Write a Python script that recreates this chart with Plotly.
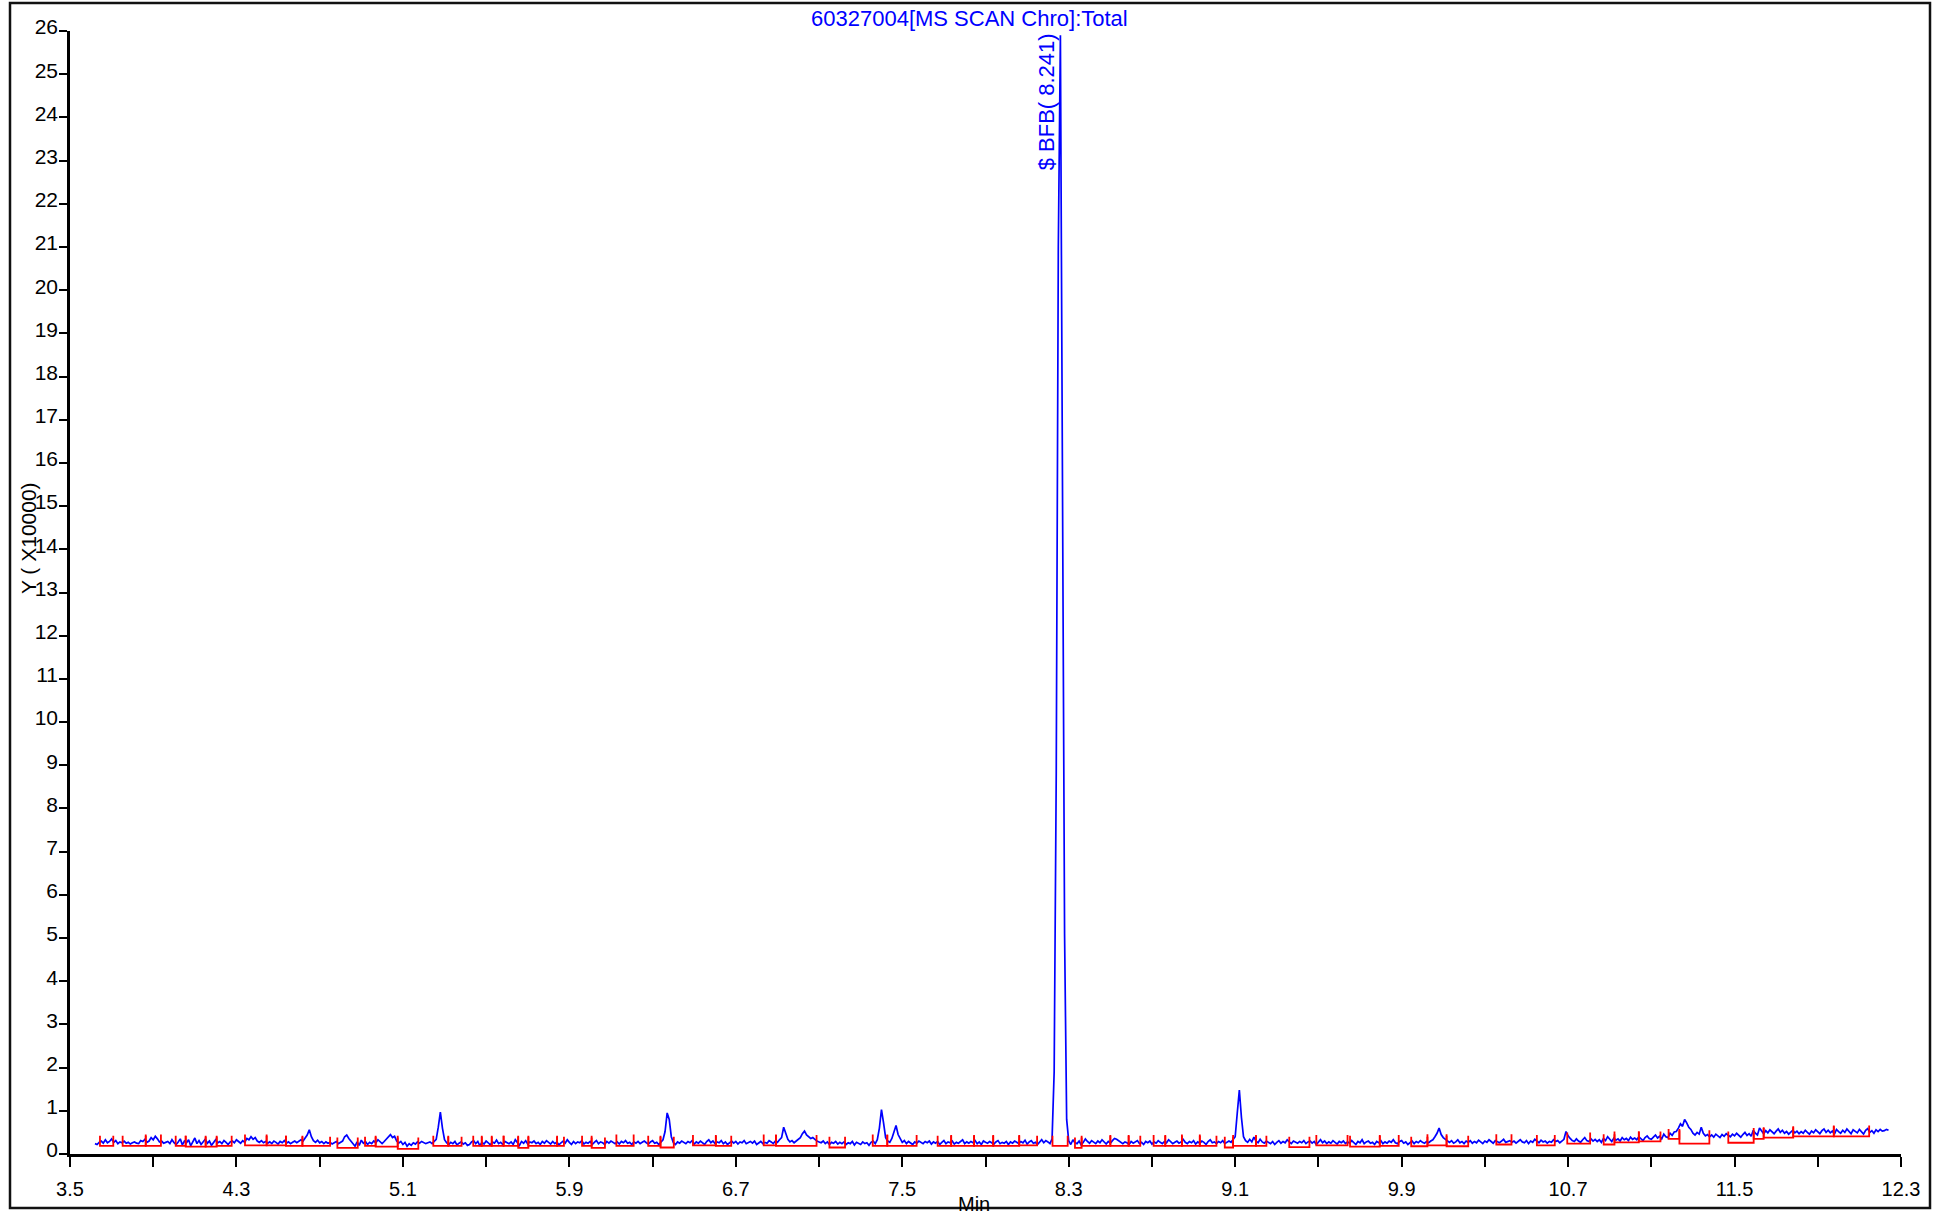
import numpy as np
import plotly.graph_objects as go

# ---------------- data ----------------
scan_start = 3.62   # min
scan_step = 0.01    # min per scan
# Total ion current, in units of 100 counts (rows of 20 scans = 0.2 min)
tic_hundreds = [
    24, 22, 27, 30, 25, 33, 26, 29, 35, 27, 31, 24, 28, 26, 30, 25, 27, 23, 26, 28,
    25, 24, 31, 29, 34, 27, 30, 38, 33, 41, 35, 28, 30, 25, 27, 29, 24, 33, 26, 22,
    28, 35, 21, 30, 26, 33, 19, 29, 37, 24, 31, 22, 27, 34, 25, 30, 20, 28, 33, 26,
    29, 24, 31, 27, 22, 28, 30, 26, 33, 29, 25, 31, 27, 36, 33, 40, 34, 38, 30, 27,
    31, 26, 29, 25, 28, 24, 30, 27, 23, 29, 26, 31, 25, 28, 24, 27, 30, 26, 29, 33,
    30, 36, 44, 56, 40, 31, 27, 32, 26, 29, 24, 28, 25, 27, 23, 26, 29, 24, 27, 30,
    40, 44, 36, 30, 23, 18, 28, 20, 32, 25, 29, 22, 27, 24, 30, 26, 33, 28, 24, 29,
    34, 40, 45, 38, 41, 30, 25, 29, 22, 27, 18, 24, 20, 26, 23, 28, 25, 29, 27, 24,
    26, 28, 24, 30, 34, 62, 97, 60, 33, 26, 22, 27, 24, 29, 21, 25, 28, 23, 26, 20,
    22, 28, 31, 24, 29, 19, 27, 23, 30, 26, 21, 28, 25, 32, 24, 27, 22, 29, 26, 24,
    28, 22, 33, 27, 20, 29, 25, 31, 23, 28, 26, 30, 24, 27, 22, 29, 25, 31, 27, 23,
    29, 24, 28, 21, 26, 30, 25, 33, 27, 22, 29, 24, 28, 26, 31, 23, 27, 25, 29, 22,
    27, 31, 24, 28, 26, 22, 29, 25, 30, 27, 24, 28, 23, 29, 26, 31, 25, 27, 22, 28,
    25, 29, 24, 27, 30, 26, 23, 28, 31, 25, 27, 22, 29, 33, 52, 95, 80, 40, 26, 22,
    28, 25, 30, 27, 24, 29, 26, 31, 23, 28, 25, 30, 27, 22, 29, 33, 26, 30, 24, 28,
    26, 31, 24, 28, 22, 27, 30, 25, 29, 23, 28, 26, 31, 24, 27, 29, 25, 30, 22, 26,
    29, 24, 27, 25, 31, 28, 24, 30, 27, 33, 38, 62, 45, 34, 28, 31, 26, 30, 33, 38,
    47, 53, 44, 39, 36, 38, 33, 30, 28, 26, 30, 24, 28, 22, 27, 25, 29, 23, 27, 24,
    28, 22, 26, 24, 29, 21, 27, 25, 22, 28, 24, 26, 20, 27, 30, 24, 33, 60, 103, 72,
    38, 30, 27, 36, 50, 66, 45, 34, 27, 31, 24, 29, 26, 22, 28, 25, 30, 27, 24, 29,
    26, 30, 23, 28, 25, 29, 22, 27, 31, 24, 28, 26, 30, 23, 27, 25, 29, 33, 24, 28,
    25, 29, 26, 31, 24, 28, 22, 30, 27, 25, 29, 26, 23, 28, 31, 24, 27, 25, 29, 22,
    28, 25, 30, 27, 24, 29, 26, 32, 23, 28, 31, 25, 27, 22, 29, 33, 26, 31, 28, 24,
    35, 190, 880, 2100, 2590, 1620, 510, 80, 30, 22, 33, 26, 24, 30, 21, 27, 35, 29, 25, 31,
    27, 24, 30, 26, 33, 28, 23, 29, 25, 31, 36, 34, 30, 27, 24, 28, 26, 22, 29, 25,
    28, 31, 24, 27, 22, 29, 26, 30, 23, 28, 25, 31, 27, 24, 29, 26, 33, 28, 24, 27,
    30, 25, 28, 34, 27, 24, 29, 26, 31, 23, 28, 25, 30, 27, 22, 29, 33, 26, 28, 24,
    29, 26, 31, 24, 28, 30, 27, 33, 40, 95, 148, 85, 40, 31, 27, 34, 28, 39, 30, 26,
    34, 28, 25, 30, 27, 24, 29, 22, 27, 31, 25, 29, 26, 33, 28, 24, 30, 27, 25, 29,
    26, 31, 24, 28, 30, 25, 29, 22, 27, 33, 26, 30, 24, 28, 25, 31, 27, 23, 29, 26,
    30, 24, 28, 25, 31, 27, 22, 29, 26, 33, 24, 28, 30, 25, 27, 22, 29, 26, 31, 24,
    28, 25, 30, 27, 33, 26, 24, 29, 31, 25, 28, 22, 27, 30, 24, 29, 26, 31, 27, 25,
    29, 26, 30, 33, 40, 48, 60, 45, 38, 34, 30, 27, 31, 25, 28, 33, 26, 29, 24, 30,
    27, 31, 25, 29, 26, 32, 28, 24, 30, 27, 33, 29, 25, 31, 28, 26, 30, 34, 27, 29,
    31, 27, 30, 25, 29, 33, 28, 26, 31, 24, 30, 27, 34, 29, 26, 32, 28, 30, 25, 29,
    27, 33, 29, 31, 26, 30, 34, 52, 42, 36, 31, 29, 35, 30, 27, 33, 38, 31, 29, 35,
    30, 34, 29, 33, 27, 36, 31, 40, 34, 29, 37, 32, 35, 30, 38, 33, 36, 31, 39, 34,
    37, 33, 40, 35, 31, 38, 42, 36, 34, 39, 44, 37, 41, 35, 46, 40, 38, 48, 43, 51,
    52, 60, 70, 64, 80, 72, 62, 57, 48, 44, 50, 46, 62, 48, 42, 45, 40, 44, 39, 46,
    42, 38, 45, 41, 47, 43, 40, 46, 42, 48, 44, 39, 45, 50, 43, 47, 41, 55, 48, 44,
    60, 52, 47, 54, 49, 56, 51, 47, 53, 58, 50, 55, 48, 52, 46, 50, 55, 49, 53, 47,
    52, 48, 55, 50, 46, 53, 49, 56, 51, 47, 54, 58, 50, 55, 49, 53, 46, 57, 52, 48,
    55, 50, 58, 52, 47, 56, 53, 49, 57, 51, 46, 55, 59, 50, 54, 48, 56, 52, 57, 53,
    54, 57, 55,
]

# Integration baselines (red): start, end (min), level and marker top (x10000)
base_start = [3.644, 3.753, 3.864, 4.008, 4.056, 4.152, 4.205, 4.341, 4.445, 4.538,
              4.617, 4.785, 4.918, 4.969, 5.075, 5.246, 5.318, 5.438, 5.479, 5.527,
              5.584, 5.654, 5.703, 5.841, 5.961, 6.007, 6.126, 6.279, 6.338, 6.494,
              6.604, 6.834, 6.893, 7.150, 7.358, 7.428, 7.670, 7.735, 7.845, 7.937,
              8.062, 8.222, 8.330, 8.362, 8.500, 8.588, 8.708, 8.764, 8.844, 8.930,
              9.050, 9.090, 9.200, 9.360, 9.490, 9.652, 9.795, 9.946, 10.024, 10.116,
              10.355, 10.550, 10.696, 10.871, 10.923, 11.040, 11.183, 11.235, 11.470, 11.592,
              11.640, 11.782, 11.977]
base_end = [3.708, 3.864, 3.937, 4.056, 4.152, 4.205, 4.277, 4.445, 4.538, 4.617,
            4.750, 4.883, 4.969, 5.075, 5.174, 5.318, 5.382, 5.479, 5.527, 5.584,
            5.654, 5.703, 5.841, 5.874, 6.007, 6.071, 6.209, 6.338, 6.402, 6.604,
            6.678, 6.893, 7.088, 7.225, 7.428, 7.569, 7.735, 7.845, 7.937, 8.062,
            8.148, 8.295, 8.362, 8.500, 8.588, 8.644, 8.764, 8.844, 8.930, 9.010,
            9.090, 9.200, 9.250, 9.457, 9.640, 9.795, 9.886, 10.024, 10.116, 10.220,
            10.428, 10.636, 10.806, 10.923, 11.040, 11.144, 11.235, 11.379, 11.592, 11.640,
            11.782, 11.977, 12.147]
base_level = [0.19, 0.19, 0.19, 0.19, 0.17, 0.17, 0.19, 0.20, 0.20, 0.19,
              0.19, 0.14, 0.19, 0.17, 0.12, 0.19, 0.19, 0.19, 0.19, 0.19,
              0.19, 0.14, 0.19, 0.19, 0.19, 0.14, 0.19, 0.19, 0.15, 0.20,
              0.19, 0.20, 0.19, 0.15, 0.19, 0.19, 0.19, 0.19, 0.19, 0.19,
              0.20, 0.19, 0.14, 0.19, 0.19, 0.19, 0.19, 0.19, 0.19, 0.19,
              0.15, 0.19, 0.19, 0.16, 0.20, 0.17, 0.19, 0.18, 0.20, 0.18,
              0.22, 0.20, 0.24, 0.22, 0.27, 0.29, 0.35, 0.24, 0.26, 0.35,
              0.38, 0.41, 0.41]
base_mark = [0.42, 0.42, 0.45, 0.42, 0.42, 0.40, 0.42, 0.45, 0.42, 0.42,
             0.40, 0.38, 0.40, 0.42, 0.38, 0.42, 0.40, 0.42, 0.40, 0.42,
             0.42, 0.40, 0.42, 0.40, 0.42, 0.38, 0.45, 0.42, 0.40, 0.44,
             0.42, 0.45, 0.44, 0.40, 0.45, 0.44, 0.42, 0.44, 0.42, 0.44,
             0.42, 0.42, 0.38, 0.42, 0.44, 0.42, 0.44, 0.42, 0.45, 0.42,
             0.40, 0.44, 0.42, 0.40, 0.44, 0.42, 0.44, 0.40, 0.46, 0.42,
             0.46, 0.44, 0.50, 0.46, 0.52, 0.52, 0.58, 0.55, 0.52, 0.60,
             0.62, 0.64, 0.66]

x_tick_vals = [3.5, 3.9, 4.3, 4.7, 5.1, 5.5, 5.9, 6.3, 6.7, 7.1, 7.5, 7.9,
               8.3, 8.7, 9.1, 9.5, 9.9, 10.3, 10.7, 11.1, 11.5, 11.9, 12.3]
x_tick_text = ["3.5", "", "4.3", "", "5.1", "", "5.9", "", "6.7", "", "7.5", "",
               "8.3", "", "9.1", "", "9.9", "", "10.7", "", "11.5", "", "12.3"]
y_tick_vals = list(range(0, 27))

title_text = "60327004[MS SCAN Chro]:Total"
peak_label = "$ BFB( 8.241)"
peak_rt = 8.241
y_title = "Y ( X10000)"
x_title = "Min"

# ---------------- build ----------------
tic = np.array(tic_hundreds, dtype=float) / 100.0
times = np.round(scan_start + scan_step * np.arange(len(tic)), 3)

bx, by = [], []
for s, e, lv, mk in zip(base_start, base_end, base_level, base_mark):
    bx += [s, s, e, e, None]
    by += [mk, lv, lv, mk, None]

FONT = "Liberation Sans, Arial, sans-serif"
BLUE = "#0000ff"

fig = go.Figure()
fig.add_trace(go.Scatter(x=times, y=tic, mode="lines",
                         line=dict(color=BLUE, width=1.7), hoverinfo="skip"))
fig.add_trace(go.Scatter(x=bx, y=by, mode="lines",
                         line=dict(color="#ff0000", width=1.8), hoverinfo="skip"))

W, H = 1948, 1212
ml, mr, mt, mb = 70, 47, 31, 56
pw, ph = W - ml - mr, H - mt - mb

def px(xp):
    return (xp - ml) / pw

def py(yp):
    return (H - mb - yp) / ph

fig.update_layout(
    width=W, height=H,
    margin=dict(l=ml, r=mr, t=mt, b=mb, pad=0),
    paper_bgcolor="white", plot_bgcolor="white",
    showlegend=False,
    font=dict(family=FONT, color="black"),
    xaxis=dict(range=[3.5, 12.3], showgrid=False, zeroline=False,
               showline=True, linecolor="black", linewidth=2.5,
               ticks="outside", ticklen=10, tickwidth=2, tickcolor="black",
               tickmode="array", tickvals=x_tick_vals, ticktext=x_tick_text,
               tickfont=dict(family=FONT, size=20, color="black"),
               ticklabelstandoff=5),
    yaxis=dict(range=[0, 26], showgrid=False, zeroline=False,
               showline=True, linecolor="black", linewidth=2.5,
               ticks="outside", ticklen=8, tickwidth=2, tickcolor="black",
               tickmode="array", tickvals=y_tick_vals,
               ticktext=[str(v) for v in y_tick_vals],
               tickfont=dict(family=FONT, size=21, color="black"),
               ticklabelstandoff=-3, ticklabelshift=-4),
)

fig.add_annotation(text=title_text, xref="paper", yref="paper",
                   x=px(969), y=py(18), xanchor="center", yanchor="middle",
                   showarrow=False, font=dict(family=FONT, size=22, color=BLUE))
fig.add_annotation(text=peak_label, xref="x", yref="paper",
                   x=peak_rt, y=py(102), xshift=-10, textangle=-90,
                   xanchor="center", yanchor="middle", showarrow=False,
                   font=dict(family=FONT, size=22, color=BLUE))
fig.add_annotation(text=y_title, xref="paper", yref="paper",
                   x=px(28), y=py(539), textangle=-90,
                   xanchor="center", yanchor="middle", showarrow=False,
                   font=dict(family=FONT, size=21, color="black"))
fig.add_annotation(text=x_title, xref="paper", yref="paper",
                   x=px(974), y=py(1206), xanchor="center", yanchor="middle",
                   showarrow=False, font=dict(family=FONT, size=20, color="black"))

fig.add_shape(type="rect", xref="paper", yref="paper",
              x0=px(10), x1=px(1930), y0=py(1210), y1=py(3),
              line=dict(color="#111111", width=2.5), fillcolor="rgba(0,0,0,0)")

fig.write_html("out.html", include_plotlyjs=True,
               config={"displayModeBar": False},
               post_script="document.body.style.margin='0';document.body.style.overflow='hidden';")
